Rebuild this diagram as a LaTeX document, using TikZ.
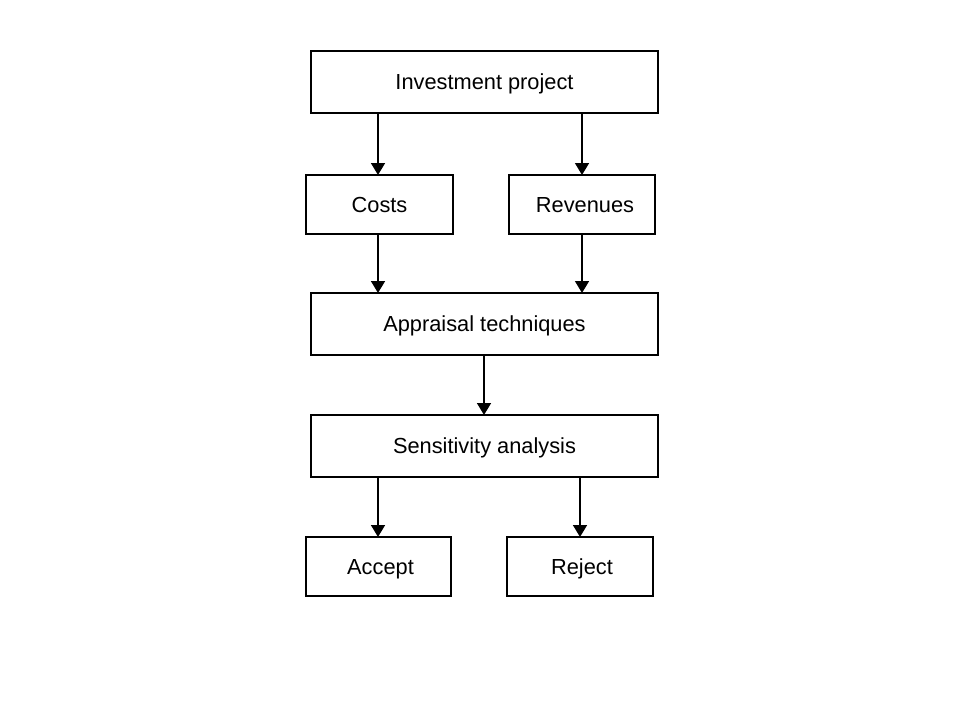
\documentclass[tikz,border=0pt]{standalone}
\usepackage{fontspec}
\setmainfont{Liberation Sans}
\usetikzlibrary{arrows.meta}
\begin{document}
\begin{tikzpicture}[x=1pt,y=-1pt,
  box/.style={draw=black,line width=1.6pt,fill=white,inner sep=0pt,outer sep=0pt,
    text height=19pt,text depth=4pt,font=\fontsize{21.8}{26}\selectfont},
  arr/.style={line width=1.6pt,-{Triangle[length=12pt,width=14pt]}}]
\useasboundingbox[fill=white] (0,0) rectangle (960,720);
\node[box,minimum width=347pt,minimum height=62pt] (inv) at (484.5,82) {Investment project};
\node[box,minimum width=147pt,minimum height=59pt] (cost) at (379.5,204.5) {Costs};
\node[box,minimum width=146pt,minimum height=59pt] (rev) at (582,204.5) {\hspace{6pt}Revenues};
\node[box,minimum width=347pt,minimum height=62pt] (app) at (484.5,324) {Appraisal techniques};
\node[box,minimum width=347pt,minimum height=62pt] (sen) at (484.5,446) {Sensitivity analysis};
\node[box,minimum width=145pt,minimum height=59pt] (acc) at (378.5,566.5) {\hspace{4pt}Accept};
\node[box,minimum width=146pt,minimum height=59pt] (rej) at (580,566.5) {\hspace{4pt}Reject};
\draw[arr] ([xshift=-1.5pt]inv.south -| cost) -- ([xshift=-1.5pt]cost.north);
\draw[arr] (inv.south -| rev) -- (rev.north);
\draw[arr] ([xshift=-1.5pt]cost.south) -- ([xshift=-1.5pt]cost.south |- app.north);
\draw[arr] (rev.south) -- (rev.south |- app.north);
\draw[arr] ([xshift=-0.5pt]app.south) -- ([xshift=-0.5pt]sen.north);
\draw[arr] ([xshift=-0.5pt]sen.south -| acc) -- ([xshift=-0.5pt]acc.north);
\draw[arr] (sen.south -| rej) -- (rej.north);
\end{tikzpicture}
\end{document}
